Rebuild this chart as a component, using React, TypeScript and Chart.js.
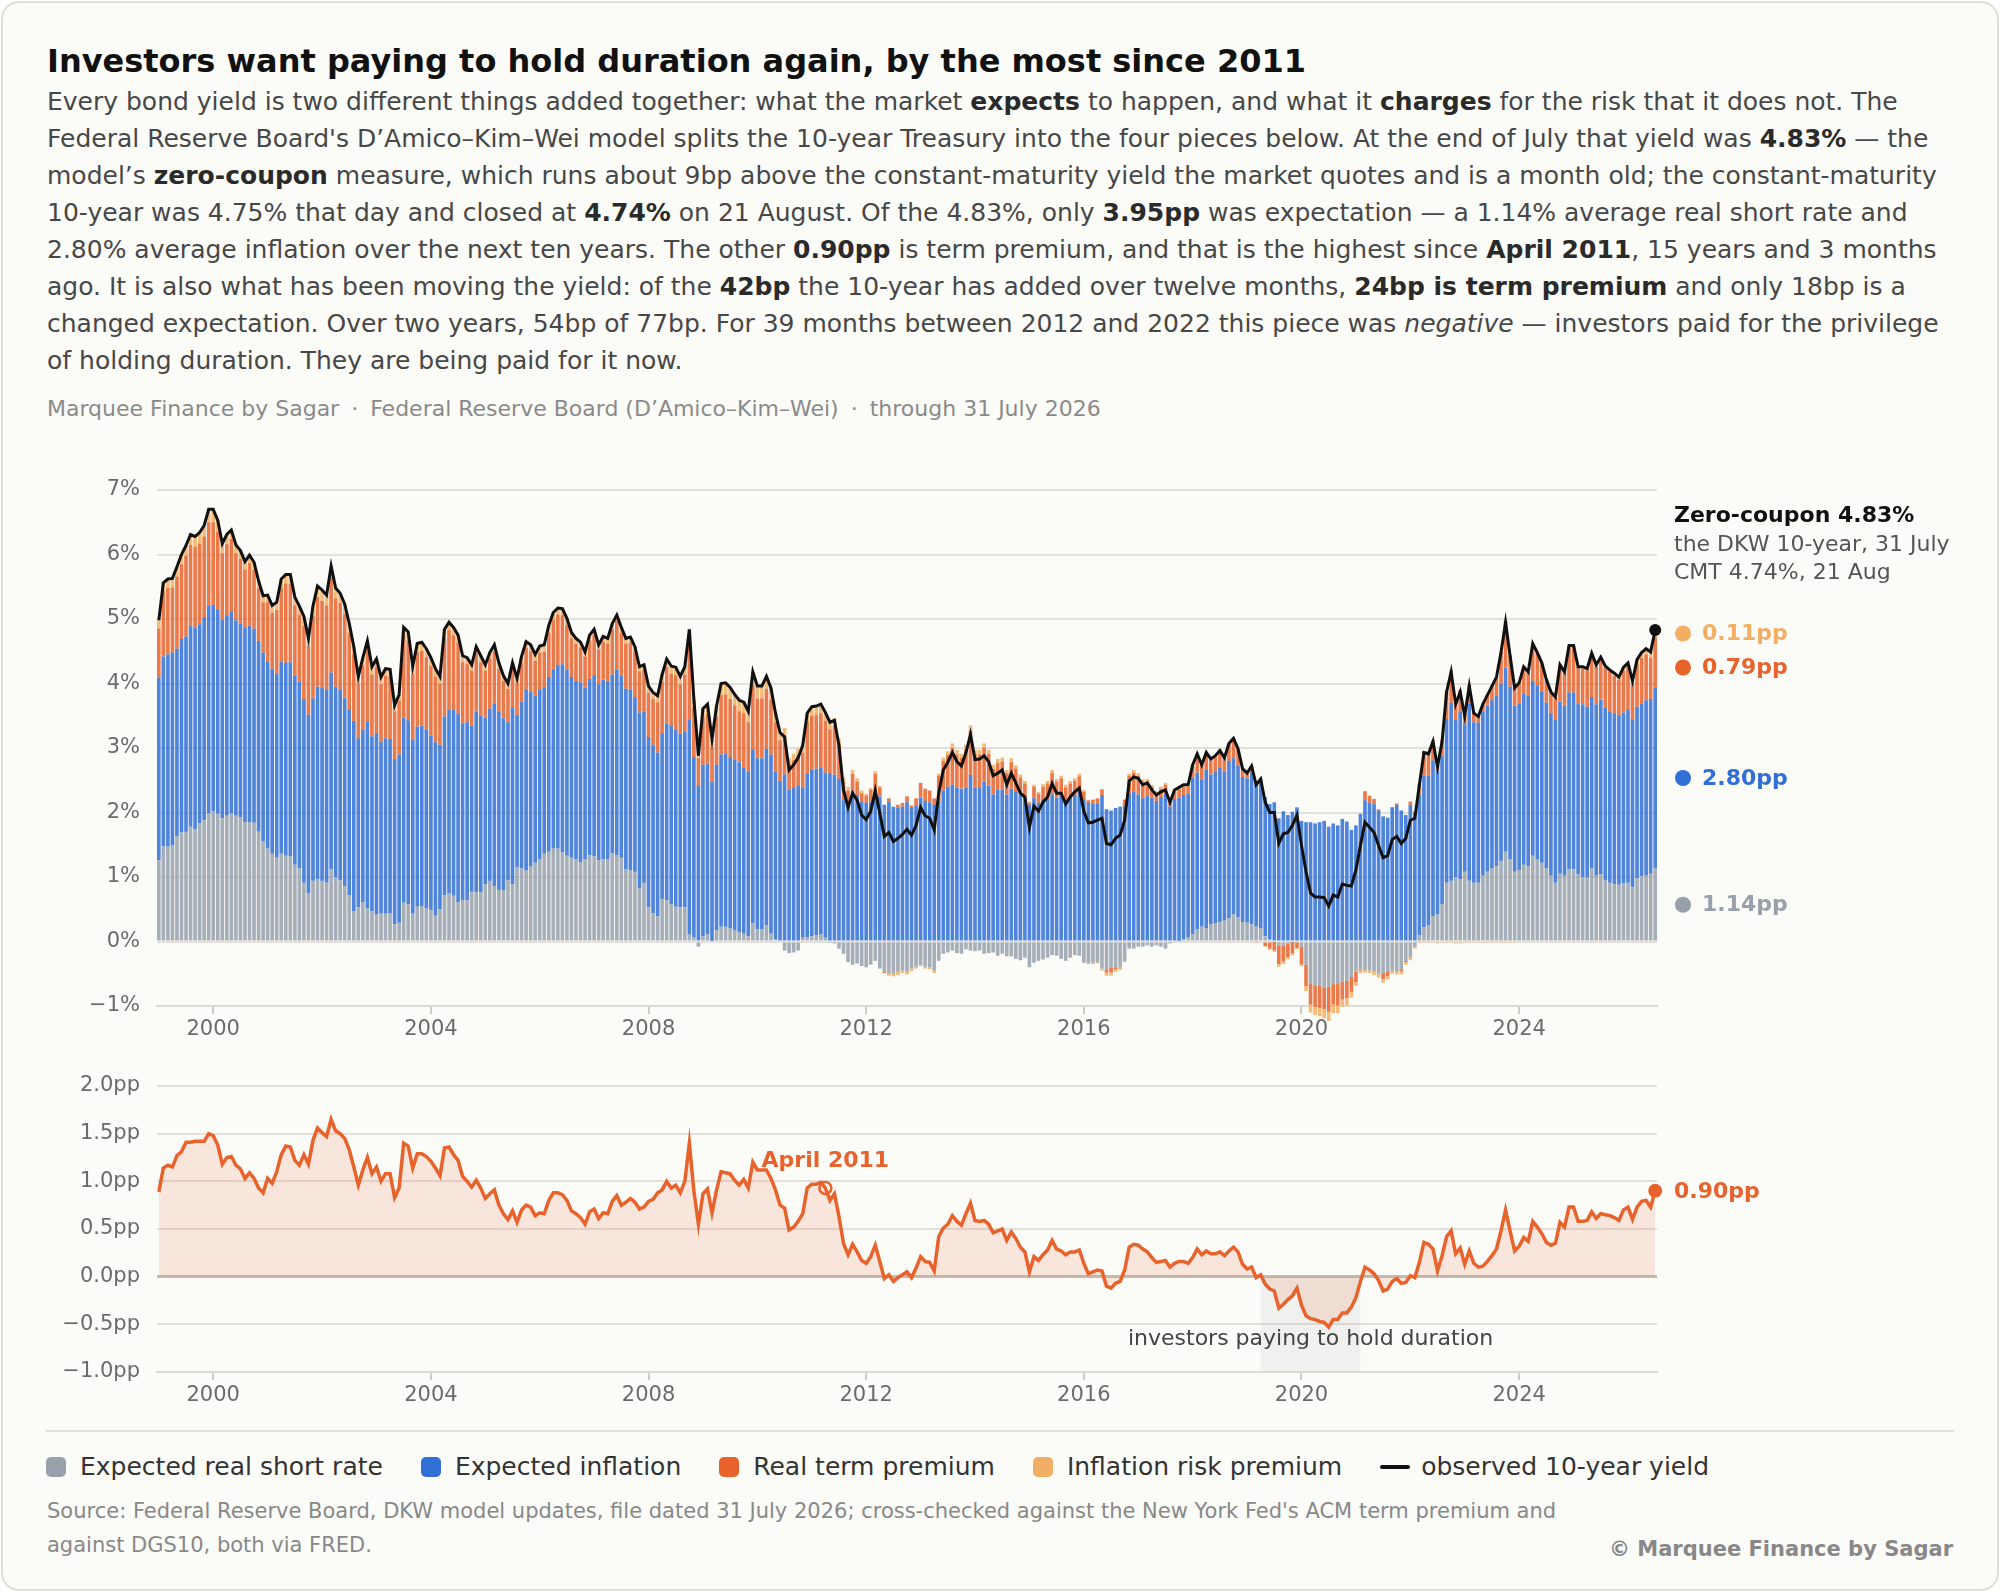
import React, { useEffect, useRef } from "react";
import Chart from "chart.js/auto";

document.body.style.margin = "0";

const FONT = '"DejaVu Sans", Verdana, sans-serif';
Chart.defaults.font.family = FONT;

// one bar per month, January 1999 .. July 2026
const START_YEAR = 1999;
const yearTicks = [2000, 2004, 2008, 2012, 2016, 2020, 2024];
const yieldTicks = [-1, 0, 1, 2, 3, 4, 5, 6, 7];
const premiumTicks = [-1, -0.5, 0, 0.5, 1, 1.5, 2];

// DKW zero-coupon 10-year yield, %
const zeroCoupon10y = [
  4.98, 5.56, 5.62, 5.63, 5.81, 6.0, 6.14, 6.31, 6.28, 6.34, 6.45, 6.7, // 1999
  6.7, 6.53, 6.17, 6.31, 6.38, 6.15, 6.06, 5.89, 5.99, 5.88, 5.59, 5.36,
  5.37, 5.21, 5.26, 5.62, 5.69, 5.69, 5.34, 5.2, 5.04, 4.7, 5.2, 5.51,
  5.45, 5.37, 5.82, 5.48, 5.4, 5.23, 4.93, 4.57, 4.11, 4.4, 4.66, 4.26,
  4.38, 4.1, 4.23, 4.22, 3.66, 3.83, 4.87, 4.8, 4.27, 4.62, 4.64, 4.54,
  4.4, 4.23, 4.11, 4.84, 4.95, 4.87, 4.75, 4.43, 4.4, 4.29, 4.57, 4.43, // 2004
  4.29, 4.48, 4.6, 4.32, 4.12, 4.0, 4.32, 4.08, 4.42, 4.65, 4.6, 4.45,
  4.58, 4.6, 4.9, 5.1, 5.17, 5.16, 5.01, 4.79, 4.7, 4.64, 4.49, 4.75,
  4.84, 4.6, 4.73, 4.7, 4.93, 5.06, 4.87, 4.7, 4.72, 4.57, 4.26, 4.29,
  3.96, 3.86, 3.81, 4.14, 4.38, 4.27, 4.25, 4.11, 4.26, 4.84, 3.76, 2.88, // 2008
  3.61, 3.68, 3.14, 3.65, 4.0, 4.01, 3.94, 3.83, 3.74, 3.71, 3.57, 4.18,
  3.96, 3.96, 4.11, 3.93, 3.54, 3.24, 3.17, 2.66, 2.74, 2.85, 3.04, 3.54,
  3.64, 3.65, 3.68, 3.55, 3.4, 3.43, 3.04, 2.35, 2.08, 2.3, 2.19, 1.96,
  1.89, 2.02, 2.34, 1.99, 1.63, 1.69, 1.55, 1.6, 1.66, 1.74, 1.65, 1.8, // 2012
  2.08, 1.95, 1.91, 1.73, 2.3, 2.66, 2.78, 2.93, 2.79, 2.72, 2.93, 3.21,
  2.82, 2.83, 2.88, 2.79, 2.57, 2.61, 2.66, 2.43, 2.61, 2.46, 2.3, 2.24,
  1.77, 2.1, 2.02, 2.16, 2.24, 2.45, 2.3, 2.3, 2.13, 2.24, 2.32, 2.38,
  2.02, 1.84, 1.85, 1.88, 1.91, 1.52, 1.5, 1.6, 1.65, 1.88, 2.49, 2.55, // 2016
  2.53, 2.43, 2.46, 2.35, 2.27, 2.32, 2.35, 2.16, 2.35, 2.39, 2.43, 2.43,
  2.74, 2.91, 2.74, 2.93, 2.83, 2.88, 2.96, 2.85, 3.07, 3.15, 2.99, 2.68,
  2.61, 2.72, 2.43, 2.52, 2.16, 2.0, 2.0, 1.52, 1.67, 1.69, 1.8, 1.96,
  1.49, 1.08, 0.75, 0.69, 0.69, 0.68, 0.55, 0.72, 0.69, 0.89, 0.87, 0.86, // 2020
  1.11, 1.49, 1.85, 1.77, 1.69, 1.49, 1.3, 1.33, 1.58, 1.63, 1.52, 1.6,
  1.88, 1.91, 2.43, 2.93, 2.91, 3.1, 2.71, 3.1, 3.87, 4.18, 3.68, 3.87,
  3.5, 3.96, 3.54, 3.49, 3.68, 3.82, 3.96, 4.1, 4.48, 4.95, 4.43, 3.93,
  4.01, 4.26, 4.18, 4.62, 4.48, 4.32, 4.06, 3.87, 3.79, 4.29, 4.18, 4.59, // 2024
  4.59, 4.26, 4.26, 4.23, 4.47, 4.29, 4.41, 4.27, 4.21, 4.16, 4.1, 4.25,
  4.32, 4.04, 4.37, 4.48, 4.54, 4.49, 4.83,
];

// term premium, pp (real term premium + inflation risk premium)
const termPremium = [
  0.89, 1.14, 1.17, 1.15, 1.27, 1.31, 1.41, 1.41, 1.42, 1.42, 1.42, 1.5, // 1999
  1.48, 1.38, 1.18, 1.25, 1.26, 1.17, 1.13, 1.03, 1.09, 1.03, 0.93, 0.88,
  1.03, 0.98, 1.1, 1.28, 1.37, 1.36, 1.22, 1.17, 1.28, 1.18, 1.43, 1.56,
  1.51, 1.47, 1.65, 1.53, 1.5, 1.45, 1.33, 1.15, 0.96, 1.12, 1.25, 1.08,
  1.15, 1.0, 1.08, 1.08, 0.83, 0.93, 1.4, 1.37, 1.14, 1.29, 1.29, 1.26,
  1.21, 1.14, 1.06, 1.35, 1.36, 1.28, 1.22, 1.05, 1.0, 0.94, 1.01, 0.93, // 2004
  0.82, 0.87, 0.91, 0.75, 0.66, 0.6, 0.69, 0.57, 0.7, 0.75, 0.73, 0.64,
  0.67, 0.66, 0.8, 0.88, 0.88, 0.86, 0.8, 0.69, 0.66, 0.62, 0.55, 0.68,
  0.71, 0.61, 0.67, 0.66, 0.79, 0.85, 0.75, 0.78, 0.82, 0.78, 0.71, 0.73,
  0.79, 0.81, 0.88, 0.91, 1.0, 0.93, 0.96, 0.88, 1.0, 1.4, 0.9, 0.55, // 2008
  0.87, 0.92, 0.67, 0.91, 1.1, 1.09, 1.08, 1.01, 0.96, 1.02, 0.93, 1.2,
  1.12, 1.12, 1.12, 1.03, 0.91, 0.75, 0.72, 0.49, 0.52, 0.58, 0.66, 0.93,
  0.97, 0.97, 0.99, 0.93, 0.8, 0.87, 0.63, 0.35, 0.23, 0.34, 0.26, 0.17,
  0.14, 0.21, 0.33, 0.16, -0.02, 0.02, -0.05, -0.01, 0.02, 0.05, -0.01, 0.09, // 2012
  0.21, 0.16, 0.15, 0.06, 0.42, 0.51, 0.55, 0.64, 0.58, 0.54, 0.66, 0.77,
  0.59, 0.58, 0.59, 0.55, 0.46, 0.48, 0.5, 0.38, 0.47, 0.4, 0.31, 0.26,
  0.05, 0.21, 0.17, 0.23, 0.28, 0.38, 0.29, 0.27, 0.23, 0.26, 0.26, 0.28,
  0.14, 0.03, 0.05, 0.07, 0.06, -0.1, -0.12, -0.07, -0.05, 0.07, 0.31, 0.34, // 2016
  0.33, 0.29, 0.26, 0.2, 0.15, 0.16, 0.17, 0.1, 0.14, 0.16, 0.16, 0.14,
  0.2, 0.29, 0.23, 0.27, 0.24, 0.24, 0.26, 0.22, 0.27, 0.31, 0.26, 0.13,
  0.08, 0.1, -0.01, 0.02, -0.08, -0.13, -0.15, -0.33, -0.29, -0.24, -0.2, -0.12,
  -0.3, -0.41, -0.44, -0.45, -0.47, -0.48, -0.53, -0.45, -0.45, -0.38, -0.38, -0.32, // 2020
  -0.22, -0.05, 0.1, 0.07, 0.03, -0.04, -0.15, -0.13, -0.05, -0.02, -0.07, -0.06,
  0.01, -0.01, 0.15, 0.36, 0.34, 0.29, 0.06, 0.22, 0.42, 0.48, 0.24, 0.3,
  0.13, 0.27, 0.14, 0.1, 0.11, 0.16, 0.22, 0.29, 0.48, 0.7, 0.48, 0.27,
  0.32, 0.41, 0.37, 0.58, 0.52, 0.45, 0.36, 0.33, 0.35, 0.57, 0.52, 0.73, // 2024
  0.73, 0.58, 0.58, 0.59, 0.68, 0.61, 0.66, 0.65, 0.64, 0.62, 0.59, 0.7,
  0.73, 0.6, 0.73, 0.79, 0.8, 0.73, 0.9,
];

// expected real short rate over ten years, %
const realShortRate = [
  1.26, 1.48, 1.47, 1.49, 1.63, 1.69, 1.7, 1.78, 1.74, 1.83, 1.88, 1.99, // 1999
  2.02, 1.98, 1.91, 1.95, 1.99, 1.95, 1.93, 1.85, 1.85, 1.84, 1.7, 1.55,
  1.44, 1.36, 1.3, 1.36, 1.33, 1.32, 1.19, 1.13, 0.91, 0.75, 0.94, 0.97,
  0.94, 0.91, 1.12, 1.0, 0.95, 0.86, 0.72, 0.47, 0.53, 0.61, 0.51, 0.47,
  0.42, 0.44, 0.43, 0.44, 0.27, 0.29, 0.6, 0.58, 0.43, 0.54, 0.55, 0.51,
  0.49, 0.4, 0.5, 0.72, 0.75, 0.71, 0.61, 0.64, 0.64, 0.77, 0.76, 0.76, // 2004
  0.89, 0.94, 0.86, 0.8, 0.8, 0.95, 0.89, 1.15, 1.13, 1.1, 1.16, 1.22,
  1.27, 1.36, 1.39, 1.45, 1.44, 1.38, 1.33, 1.3, 1.27, 1.23, 1.27, 1.34,
  1.32, 1.26, 1.27, 1.28, 1.37, 1.34, 1.3, 1.12, 1.1, 1.08, 0.83, 0.91,
  0.53, 0.44, 0.39, 0.66, 0.64, 0.58, 0.54, 0.53, 0.53, 0.11, 0.06, -0.08, // 2008
  0.08, 0.11, 0.01, 0.17, 0.23, 0.23, 0.21, 0.17, 0.14, 0.12, 0.08, 0.28,
  0.19, 0.19, 0.25, 0.12, 0.04, 0.0, -0.14, -0.18, -0.17, -0.14, 0.06, 0.07,
  0.08, 0.1, 0.11, 0.06, -0.01, -0.03, -0.11, -0.19, -0.32, -0.36, -0.34, -0.38,
  -0.4, -0.36, -0.3, -0.42, -0.47, -0.5, -0.49, -0.47, -0.45, -0.47, -0.42, -0.39, // 2012
  -0.36, -0.39, -0.4, -0.45, -0.3, -0.19, -0.17, -0.14, -0.18, -0.19, -0.12, -0.14,
  -0.15, -0.14, -0.19, -0.18, -0.17, -0.22, -0.19, -0.23, -0.23, -0.27, -0.29, -0.25,
  -0.4, -0.33, -0.3, -0.28, -0.25, -0.21, -0.22, -0.27, -0.3, -0.25, -0.21, -0.22,
  -0.33, -0.34, -0.33, -0.32, -0.42, -0.43, -0.41, -0.4, -0.39, -0.3, -0.11, -0.11, // 2016
  -0.08, -0.08, -0.06, -0.08, -0.06, -0.08, -0.11, -0.03, 0.0, 0.01, 0.04, 0.07,
  0.11, 0.19, 0.23, 0.21, 0.27, 0.28, 0.3, 0.32, 0.36, 0.42, 0.38, 0.3,
  0.29, 0.27, 0.23, 0.21, 0.08, 0.03, -0.01, -0.06, -0.06, -0.03, -0.01, 0.0,
  -0.08, -0.36, -0.66, -0.69, -0.69, -0.71, -0.7, -0.66, -0.66, -0.63, -0.61, -0.55, // 2020
  -0.47, -0.44, -0.44, -0.45, -0.47, -0.5, -0.49, -0.46, -0.45, -0.47, -0.44, -0.3,
  -0.25, -0.08, 0.1, 0.22, 0.25, 0.39, 0.42, 0.58, 0.91, 0.94, 1.0, 0.96,
  1.08, 0.94, 0.91, 0.91, 1.02, 1.08, 1.13, 1.17, 1.25, 1.39, 1.27, 1.08,
  1.11, 1.19, 1.17, 1.33, 1.27, 1.22, 1.13, 1.02, 0.91, 1.05, 1.02, 1.12, // 2024
  1.12, 1.04, 1.0, 0.99, 1.13, 1.02, 1.04, 0.95, 0.91, 0.89, 0.88, 0.9,
  0.91, 0.84, 0.98, 1.01, 1.02, 1.05, 1.14,
];

// inflation risk premium, pp
const inflationRiskPremium = [
  0.13, 0.13, 0.14, 0.14, 0.15, 0.15, 0.16, 0.16, 0.16, 0.17, 0.17, 0.2, // 1999
  0.2, 0.18, 0.15, 0.15, 0.14, 0.13, 0.13, 0.12, 0.12, 0.12, 0.11, 0.1,
  0.11, 0.11, 0.12, 0.13, 0.14, 0.14, 0.13, 0.13, 0.14, 0.12, 0.15, 0.17,
  0.17, 0.16, 0.18, 0.16, 0.15, 0.15, 0.14, 0.12, 0.11, 0.12, 0.13, 0.12,
  0.12, 0.11, 0.11, 0.11, 0.09, 0.1, 0.13, 0.13, 0.12, 0.13, 0.13, 0.13,
  0.13, 0.12, 0.11, 0.12, 0.12, 0.12, 0.11, 0.1, 0.1, 0.09, 0.1, 0.1, // 2004
  0.09, 0.09, 0.1, 0.09, 0.08, 0.08, 0.09, 0.08, 0.09, 0.1, 0.1, 0.1,
  0.1, 0.11, 0.11, 0.11, 0.1, 0.1, 0.1, 0.09, 0.08, 0.08, 0.07, 0.08,
  0.08, 0.07, 0.08, 0.08, 0.09, 0.09, 0.08, 0.08, 0.08, 0.07, 0.07, 0.08,
  0.1, 0.1, 0.1, 0.11, 0.12, 0.12, 0.12, 0.12, 0.12, 0.15, 0.13, 0.11, // 2008
  0.13, 0.15, 0.14, 0.16, 0.18, 0.18, 0.18, 0.17, 0.17, 0.17, 0.17, 0.2,
  0.19, 0.19, 0.19, 0.18, 0.14, 0.12, 0.11, 0.09, 0.1, 0.1, 0.11, 0.13,
  0.14, 0.14, 0.14, 0.13, 0.12, 0.12, 0.1, 0.07, 0.06, 0.06, 0.05, 0.04,
  0.03, 0.03, 0.04, 0.02, 0.0, -0.03, -0.04, -0.05, -0.04, -0.04, -0.04, -0.03, // 2012
  -0.02, -0.03, -0.03, -0.04, 0.03, 0.05, 0.06, 0.07, 0.07, 0.06, 0.07, 0.08,
  0.07, 0.07, 0.07, 0.06, 0.06, 0.06, 0.06, 0.05, 0.06, 0.05, 0.05, 0.04,
  0.02, 0.03, 0.03, 0.04, 0.04, 0.05, 0.04, 0.04, 0.04, 0.04, 0.04, 0.04,
  0.03, -0.01, -0.02, -0.02, -0.03, -0.05, -0.05, -0.04, -0.04, -0.02, 0.03, 0.04, // 2016
  0.04, 0.04, 0.04, 0.03, 0.03, 0.03, 0.03, 0.02, 0.03, 0.03, 0.03, 0.03,
  0.03, 0.03, 0.02, 0.02, 0.02, 0.01, 0.01, 0.01, 0.01, 0.01, 0.01, 0.01,
  0.01, 0.01, 0.0, 0.0, -0.01, -0.02, -0.02, -0.04, -0.04, -0.03, -0.03, -0.02,
  -0.03, -0.08, -0.12, -0.13, -0.13, -0.14, -0.14, -0.13, -0.12, -0.11, -0.11, -0.09, // 2020
  -0.06, -0.04, -0.04, -0.04, -0.05, -0.06, -0.06, -0.05, -0.04, -0.04, -0.05, -0.04,
  -0.04, -0.03, -0.02, -0.01, -0.02, -0.02, -0.03, -0.02, -0.02, -0.02, -0.03, -0.03,
  -0.02, -0.02, -0.02, -0.01, -0.01, -0.01, -0.01, 0.0, -0.01, -0.02, -0.01, -0.01,
  0.01, 0.01, 0.02, 0.02, 0.01, 0.01, 0.01, 0.02, 0.02, 0.03, 0.03, 0.03, // 2024
  0.02, 0.02, 0.03, 0.03, 0.03, 0.03, 0.03, 0.03, 0.03, 0.04, 0.04, 0.05,
  0.06, 0.05, 0.07, 0.08, 0.09, 0.09, 0.11,
];

// the other two pieces follow from yield = real rate + inflation + real TP + IRP
const expectedInflation = zeroCoupon10y.map((v, i) => +(v - termPremium[i] - realShortRate[i]).toFixed(2));
const realTermPremium = termPremium.map((v, i) => +(v - inflationRiskPremium[i]).toFixed(2));

const aprilMonth = 147; // April 2011, the last time the premium was higher
const payingBand = [243, 265]; // April 2019 .. February 2021
const endNote = ["Zero-coupon 4.83%", "the DKW 10-year, 31 July", "CMT 4.74%, 21 Aug"];
const endPieces = ["1.14pp", "2.80pp", "0.79pp", "0.11pp"];

const COLORS = {
  grey: "#97a0ab",
  blue: "#2f6fd6",
  orange: "#e8622c",
  light: "#f2ae62",
};
const BAR_FILL = {
  grey: "rgba(151,160,171,0.85)",
  blue: "rgba(47,111,214,0.85)",
  orange: "rgba(232,98,44,0.85)",
  light: "rgba(242,174,98,0.85)",
};

const points = (arr: number[]) => arr.map((v, i) => ({ x: i, y: v }));

const xAxis = () => ({
  type: "linear",
  stacked: true,
  offset: false,
  min: -0.4,
  max: zeroCoupon10y.length - 1 + 0.4,
  afterBuildTicks: (s: any) => {
    s.ticks = yearTicks.map((y) => ({ value: (y - START_YEAR) * 12 }));
  },
  afterFit: (s: any) => {
    s.height = 40;
  },
  grid: { offset: false, drawOnChartArea: false, drawTicks: true, tickLength: 8, color: "#cfcac3", lineWidth: 2 },
  border: { display: true, color: "#dedbd6", width: 2 },
  ticks: {
    color: "#6b6b6b",
    font: { size: 21 },
    padding: 3,
    maxRotation: 0,
    autoSkip: false,
    callback: (v: any) => String(START_YEAR + Number(v) / 12),
  },
});

const mainAnnotations = {
  id: "mainAnnotations",
  afterDatasetsDraw(chart: any) {
    const { ctx, chartArea, scales } = chart;
    const x = scales.x;
    const y = scales.y;
    const last = zeroCoupon10y.length - 1;
    ctx.save();
    ctx.fillStyle = "#111";
    ctx.beginPath();
    ctx.arc(x.getPixelForValue(last), y.getPixelForValue(zeroCoupon10y[last]), 6, 0, Math.PI * 2);
    ctx.fill();

    const left = chartArea.right + 17;
    ctx.textAlign = "left";
    ctx.textBaseline = "alphabetic";
    ctx.font = `bold 22px ${FONT}`;
    ctx.fillText(endNote[0], left, chartArea.top + 32);
    ctx.font = `22px ${FONT}`;
    ctx.fillStyle = "#555";
    ctx.fillText(endNote[1], left, chartArea.top + 61);
    ctx.fillText(endNote[2], left, chartArea.top + 89);

    const r = realShortRate[last];
    const inf = expectedInflation[last];
    const rtp = realTermPremium[last];
    const irp = inflationRiskPremium[last];
    const pieces = [
      { mid: r + inf + rtp + irp / 2, color: COLORS.light, text: endPieces[3] },
      { mid: r + inf + rtp / 2, color: COLORS.orange, text: endPieces[2] },
      { mid: r + inf / 2, color: COLORS.blue, text: endPieces[1] },
      { mid: r / 2, color: COLORS.grey, text: endPieces[0] },
    ];
    let prev = -Infinity;
    ctx.font = `bold 22px ${FONT}`;
    ctx.textBaseline = "middle";
    for (const p of pieces) {
      const py = Math.max(y.getPixelForValue(p.mid), prev + 34);
      prev = py;
      ctx.fillStyle = p.color;
      ctx.beginPath();
      ctx.arc(chartArea.right + 26, py, 8, 0, Math.PI * 2);
      ctx.fill();
      ctx.fillText(p.text, chartArea.right + 45, py + 1);
    }
    ctx.restore();
  },
};

const premiumAnnotations = {
  id: "premiumAnnotations",
  beforeDatasetsDraw(chart: any) {
    const { ctx, chartArea, scales } = chart;
    const x0 = scales.x.getPixelForValue(payingBand[0]);
    const x1 = scales.x.getPixelForValue(payingBand[1]);
    const y0 = scales.y.getPixelForValue(0);
    ctx.save();
    ctx.fillStyle = "rgba(110,115,140,0.08)";
    ctx.fillRect(x0, y0, x1 - x0, chartArea.bottom - y0);
    ctx.restore();
  },
  afterDatasetsDraw(chart: any) {
    const { ctx, chartArea, scales } = chart;
    const x = scales.x;
    const y = scales.y;
    ctx.save();
    ctx.font = `22px ${FONT}`;
    ctx.fillStyle = "#444";
    ctx.textAlign = "center";
    ctx.textBaseline = "middle";
    ctx.fillText(
      "investors paying to hold duration",
      (x.getPixelForValue(payingBand[0]) + x.getPixelForValue(payingBand[1])) / 2,
      y.getPixelForValue(-0.66)
    );

    const ax = x.getPixelForValue(aprilMonth);
    const ay = y.getPixelForValue(termPremium[aprilMonth]);
    ctx.strokeStyle = COLORS.orange;
    ctx.lineWidth = 2.5;
    ctx.beginPath();
    ctx.arc(ax, ay, 6, 0, Math.PI * 2);
    ctx.stroke();
    ctx.font = `bold 22px ${FONT}`;
    ctx.fillStyle = COLORS.orange;
    ctx.textBaseline = "alphabetic";
    ctx.fillText("April 2011", ax, ay - 21);

    const last = termPremium.length - 1;
    const ey = y.getPixelForValue(termPremium[last]);
    ctx.beginPath();
    ctx.arc(x.getPixelForValue(last), ey, 7, 0, Math.PI * 2);
    ctx.fill();
    ctx.textAlign = "left";
    ctx.textBaseline = "middle";
    ctx.fillText(termPremium[last].toFixed(2) + "pp", chartArea.right + 17, ey + 1);
    ctx.restore();
  },
};

const mainConfig = (): any => ({
  type: "bar",
  data: {
    datasets: [
      {
        type: "line",
        label: "observed 10-year yield",
        data: points(zeroCoupon10y),
        borderColor: "#111",
        borderWidth: 3,
        pointRadius: 0,
        tension: 0,
        stack: "yield",
        order: 0,
      },
      { label: "Expected real short rate", data: points(realShortRate), backgroundColor: BAR_FILL.grey },
      { label: "Expected inflation", data: points(expectedInflation), backgroundColor: BAR_FILL.blue },
      { label: "Real term premium", data: points(realTermPremium), backgroundColor: BAR_FILL.orange },
      { label: "Inflation risk premium", data: points(inflationRiskPremium), backgroundColor: BAR_FILL.light },
    ].map((d: any) =>
      d.type
        ? d
        : { ...d, stack: "dkw", order: 1, borderWidth: 0, barPercentage: 0.8, categoryPercentage: 1, clip: false }
    ),
  },
  options: {
    animation: false,
    responsive: false,
    layout: { padding: { top: 30, right: 297, bottom: 4, left: 0 } },
    plugins: { legend: { display: false }, tooltip: { enabled: false } },
    scales: {
      x: xAxis(),
      y: {
        stacked: true,
        min: -1,
        max: 7,
        afterBuildTicks: (s: any) => {
          s.ticks = yieldTicks.map((v) => ({ value: v }));
        },
        afterFit: (s: any) => {
          s.width = 110;
        },
        grid: { color: "#e3e0db", lineWidth: 2, drawTicks: false },
        border: { display: false },
        ticks: {
          padding: 17,
          color: "#6b6b6b",
          font: { size: 21 },
          callback: (v: any) => (v < 0 ? "\u2212" : "") + Math.abs(v) + "%",
        },
      },
    },
  },
  plugins: [mainAnnotations],
});

const premiumConfig = (): any => ({
  type: "line",
  data: {
    datasets: [
      {
        label: "Term premium",
        data: points(termPremium),
        borderColor: COLORS.orange,
        borderWidth: 3.5,
        pointRadius: 0,
        tension: 0,
        fill: "origin",
        backgroundColor: "rgba(232,98,44,0.14)",
      },
    ],
  },
  options: {
    animation: false,
    responsive: false,
    layout: { padding: { top: 30, right: 297, bottom: 4, left: 0 } },
    plugins: { legend: { display: false }, tooltip: { enabled: false } },
    scales: {
      x: xAxis(),
      y: {
        min: -1,
        max: 2,
        afterBuildTicks: (s: any) => {
          s.ticks = premiumTicks.map((v) => ({ value: v }));
        },
        afterFit: (s: any) => {
          s.width = 110;
        },
        grid: {
          color: (c: any) => (c.tick && c.tick.value === 0 ? "#c4bdb4" : "#e3e0db"),
          lineWidth: (c: any) => (c.tick && c.tick.value === 0 ? 3 : 2),
          drawTicks: false,
        },
        border: { display: false },
        ticks: {
          padding: 17,
          color: "#6b6b6b",
          font: { size: 21 },
          callback: (v: any) => (v < 0 ? "\u2212" : "") + Math.abs(v).toFixed(1) + "pp",
        },
      },
    },
  },
  plugins: [premiumAnnotations],
});

function ChartCanvas({ config, left, top, width, height }: any) {
  const ref = useRef<HTMLCanvasElement | null>(null);
  useEffect(() => {
    if (!ref.current) return;
    const chart = new Chart(ref.current, config());
    return () => chart.destroy();
  }, []);
  return (
    <canvas ref={ref} width={width} height={height} style={{ position: "absolute", left, top, width, height }} />
  );
}

const intro: [string, string][] = [
  ["", "Every bond yield is two different things added together: what the market "],
  ["b", "expects"],
  ["", " to happen, and what it "],
  ["b", "charges"],
  [
    "",
    " for the risk that it does not. The Federal Reserve Board's D\u2019Amico\u2013Kim\u2013Wei model splits the 10-year Treasury into the four pieces below. At the end of July that yield was ",
  ],
  ["b", "4.83%"],
  ["", " \u2014 the model\u2019s "],
  ["b", "zero-coupon"],
  [
    "",
    " measure, which runs about 9bp above the constant-maturity yield the market quotes and is a month old; the constant-maturity 10-year was 4.75% that day and closed at ",
  ],
  ["b", "4.74%"],
  ["", " on 21 August. Of the 4.83%, only "],
  ["b", "3.95pp"],
  [
    "",
    " was expectation \u2014 a 1.14% average real short rate and 2.80% average inflation over the next ten years. The other ",
  ],
  ["b", "0.90pp"],
  ["", " is term premium, and that is the highest since "],
  ["b", "April 2011"],
  ["", ", 15 years and 3 months ago. It is also what has been moving the yield: of the "],
  ["b", "42bp"],
  ["", " the 10-year has added over twelve months, "],
  ["b", "24bp is term premium"],
  [
    "",
    " and only 18bp is a changed expectation. Over two years, 54bp of 77bp. For 39 months between 2012 and 2022 this piece was ",
  ],
  ["i", "negative"],
  ["", " \u2014 investors paid for the privilege of holding duration. They are being paid for it now."],
];

const legendItems = [
  { label: "Expected real short rate", color: COLORS.grey },
  { label: "Expected inflation", color: COLORS.blue },
  { label: "Real term premium", color: COLORS.orange },
  { label: "Inflation risk premium", color: COLORS.light },
];

export default function App() {
  const abs = (left: number, top: number, extra: any = {}) => ({ position: "absolute" as const, left, top, ...extra });
  return (
    <div style={{ position: "relative", width: 2000, height: 1592, fontFamily: FONT, overflow: "hidden", background: "#fff" }}>
      <div
        style={abs(1, 1, {
          width: 1998,
          height: 1590,
          boxSizing: "border-box",
          border: "2px solid #e1ded8",
          borderRadius: 18,
          background: "#fbfbf8",
        })}
      />
      <div style={abs(47, 41, { fontSize: 32, fontWeight: 700, lineHeight: "40px", color: "#111", whiteSpace: "nowrap" })}>
        Investors want paying to hold duration again, by the most since 2011
      </div>
      <div style={abs(47, 83, { width: 1910, fontSize: 25, lineHeight: "37px", color: "#474747" })}>
        {intro.map(([k, t], i) =>
          k === "b" ? (
            <b key={i} style={{ color: "#2a2a2a" }}>
              {t}
            </b>
          ) : k === "i" ? (
            <i key={i}>{t}</i>
          ) : (
            <span key={i}>{t}</span>
          )
        )}
      </div>
      <div style={abs(47, 394, { fontSize: 22, lineHeight: "30px", color: "#8a8a8a", whiteSpace: "nowrap" })}>
        Marquee Finance by Sagar<span style={{ padding: "0 12px" }}>·</span>Federal Reserve Board (D’Amico–Kim–Wei)
        <span style={{ padding: "0 12px" }}>·</span>through 31 July 2026
      </div>

      <ChartCanvas config={mainConfig} left={47} top={460} width={1907} height={590} />
      <ChartCanvas config={premiumConfig} left={47} top={1056} width={1907} height={360} />

      <div style={abs(46, 1430, { width: 1908, height: 2, background: "#e2dfda" })} />
      <div
        style={abs(46, 1452, {
          display: "flex",
          alignItems: "center",
          fontSize: 25,
          lineHeight: "30px",
          color: "#333",
          whiteSpace: "nowrap",
        })}
      >
        {legendItems.map((it) => (
          <span key={it.label} style={{ display: "inline-flex", alignItems: "center", marginRight: 38 }}>
            <span style={{ width: 20, height: 20, borderRadius: 5, background: it.color, marginRight: 14 }} />
            {it.label}
          </span>
        ))}
        <span style={{ display: "inline-flex", alignItems: "center" }}>
          <span style={{ width: 30, height: 4, borderRadius: 2, background: "#111", marginRight: 11 }} />
          observed 10-year yield
        </span>
      </div>
      <div style={abs(47, 1494, { fontSize: 21, lineHeight: "34px", color: "#888", whiteSpace: "nowrap" })}>
        Source: Federal Reserve Board, DKW model updates, file dated 31 July 2026; cross-checked against the New York
        Fed's ACM term premium and
        <br />
        against DGS10, both via FRED.
      </div>
      <div
        style={{
          position: "absolute",
          right: 47,
          top: 1534,
          fontSize: 21,
          lineHeight: "30px",
          fontWeight: 700,
          color: "#888",
          whiteSpace: "nowrap",
        }}
      >
        © Marquee Finance by Sagar
      </div>
    </div>
  );
}
